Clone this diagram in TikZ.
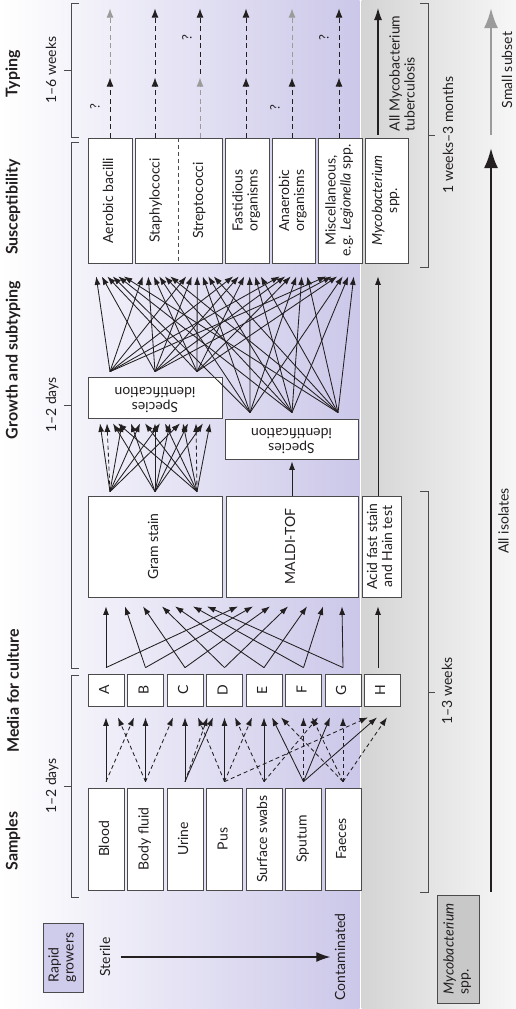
\documentclass[tikz,border=0pt]{standalone}
\usepackage{fontspec}
\setmainfont{Lato}
\usepackage{graphicx}
\usetikzlibrary{arrows.meta}
\definecolor{lav}{RGB}{203,199,233}
\definecolor{lavbox}{RGB}{207,203,235}
\definecolor{txt}{RGB}{35,31,32}
\definecolor{bord}{RGB}{75,75,75}
\definecolor{gA}{RGB}{212,212,212}
\definecolor{gB}{RGB}{247,247,247}
\definecolor{mgray}{RGB}{200,200,200}
\definecolor{lgray}{RGB}{155,155,155}
\newcommand{\bodyfont}{\fontsize{14}{15}\selectfont}
\newcommand{\rt}[2][c]{\rotatebox{90}{\begin{tabular}{@{}#1@{}}#2\end{tabular}}}
\newcommand{\rtu}[1]{\rotatebox{180}{\begin{tabular}{@{}c@{}}#1\end{tabular}}}
\begin{document}
\begin{tikzpicture}[x=1pt,y=-1pt,
  box/.style={draw=bord,line width=0.8pt,fill=white,inner sep=0pt,font=\bodyfont,text=txt},
  lab/.style={inner sep=0pt,font=\bodyfont,text=txt},
  head/.style={inner sep=0pt,font=\fontsize{16}{18}\selectfont\bfseries,text=txt},
  qm/.style={inner sep=0pt,font=\fontsize{13}{14}\selectfont,text=txt},
  arr/.style={draw=txt,line width=0.85pt,-{Latex[length=8.5pt,width=6pt]}},
  darr/.style={arr,dash pattern=on 4pt off 3pt},
  tarr/.style={draw=#1,line width=0.9pt,dash pattern=on 5pt off 3.5pt,-{Latex[length=9pt,width=7pt]}},
  brk/.style={draw=bord,line width=0.9pt},
  bigarr/.style={draw=#1,line width=2.6pt,-{Latex[length=20pt,width=14pt]}},
]
\useasboundingbox (0,0) rectangle (516,1009);
\shade[left color=white,right color=lav] (0,0) rectangle (359.5,1009);
\shade[left color=gA,right color=gB] (361.5,0) rectangle (516,1009);

% headings
\node[head] (hS) at (13,841) {\rotatebox{90}{Samples}};
\node[head] (hM) at (13,691) {\rotatebox{90}{Media for culture}};
\node[head] (hG) at (13,360) {\rotatebox{90}{Growth and subtyping}};
\node[head] (hSu) at (13,207) {\rotatebox{90}{Susceptibility}};
\node[head] (hT) at (13,74) {\rotatebox{90}{Typing}};

% time labels and brackets
\node[lab] (d1) at (53,786) {\rt{1–2 days}};
\node[lab] (d2) at (53,405) {\rt{1–2 days}};
\node[lab] (d3) at (53,70) {\rt{1–6 weeks}};
\node[lab] (d4) at (450,135) {\rt{1 weeks–3 months}};
\node[lab] (d5) at (449,691) {\rt{1–3 weeks}};
\draw[brk] (79,3) -- (71,3) -- (71,137) -- (79,137) (71,70) -- (64,70);
\draw[brk] (79,142) -- (71,142) -- (71,668) -- (79,668) (71,405) -- (64,405);
\draw[brk] (79,675) -- (71,675) -- (71,897) -- (79,897) (71,786) -- (64,786);
\draw[brk] (420,3) -- (428,3) -- (428,267) -- (420,267) (428,135) -- (435,135);
\draw[brk] (420,491) -- (428,491) -- (428,892) -- (420,892) (428,692) -- (435,692);

% samples
\foreach \n/\x/\t in {1/106/Blood,2/145.5/Body fluid,3/185/Urine,4/224.5/Pus,5/264/Surface swabs,6/303.5/Sputum,7/343/Faeces}
  \node[box,minimum width=36pt,minimum height=102pt] (s\n) at (\x,839) {\rt{\t}};
% media
\foreach \n/\x/\t in {1/106/A,2/145.5/B,3/185/C,4/224.5/D,5/264/E,6/303.5/F,7/343/G,8/382/H}
  \node[box,minimum width=36pt,minimum height=32pt] (m\n) at (\x,690) {\rt{\t}};

% identification boxes
\node[box,minimum width=134pt,minimum height=101pt] (gram) at (155,546.5) {\rt{Gram stain}};
\node[box,minimum width=132pt,minimum height=101pt] (maldi) at (292,546.5) {\rt{MALDI-TOF}};
\node[box,minimum width=39pt,minimum height=101pt] (acid) at (381.5,546.5) {\rt{Acid fast stain\\and Hain test}};
\node[box,minimum width=134pt,minimum height=41pt] (sp1) at (155,397.5) {\rtu{Species\\identification}};
\node[box,minimum width=133pt,minimum height=40pt] (sp2) at (291.5,439) {\rtu{Species\\identification}};

% susceptibility
\node[box,minimum width=44pt,minimum height=125pt] (aer) at (110,200.5) {\rt{Aerobic bacilli}};
\node[box,minimum width=87pt,minimum height=125pt] (ss) at (178.5,200.5) {};
\node[lab] (staph) at (156.5,200.5) {\rt{Staphylococci}};
\node[lab] (strep) at (200,200.5) {\rt{Streptococci}};
\draw[draw=bord,line width=0.8pt,dash pattern=on 4pt off 3pt] (ss.north) -- (ss.south);
\node[box,minimum width=44pt,minimum height=125pt] (fast) at (247,200.5) {\rt{Fastidious\\organisms}};
\node[box,minimum width=43pt,minimum height=125pt] (anaer) at (293.5,200.5) {\rt{Anaerobic\\organisms}};
\node[box,minimum width=44pt,minimum height=125pt] (misc) at (340,200.5) {\rt{Miscellaneous,\\e.g. \textit{Legionella} spp.}};
\node[box,minimum width=43pt,minimum height=125pt] (myco) at (386.5,200.5) {\rt{\textit{Mycobacterium}\\spp.}};

% left side
\node[box,fill=lavbox,minimum width=40pt,minimum height=69pt] (rapid) at (63,957.5) {\rt[l]{Rapid\\growers}};
\node[lab] (sterile) at (107,957) {\rt{Sterile}};
\node[lab] (contam) at (342,957) {\rt{Contaminated}};
\draw[draw=txt,line width=1.2pt,-{Latex[length=14pt,width=10pt]}] ([xshift=6pt]sterile.east) -- ([xshift=-4pt]contam.west);
\node[box,fill=mgray,minimum width=42pt,minimum height=108pt] (mycoL) at (458,949) {\rt[l]{\textit{Mycobacterium}\\spp.}};

% samples -> media
\foreach \s/\m/\o/\st in {1/1/0/arr,1/2/-11.5/darr,2/1/12/darr,2/2/0/arr,2/3/-12/darr,3/3/0/arr,3/4/-11.5/arr,3/4/-17/darr,4/3/13/darr,4/4/0/arr,4/5/-12/darr,4/8/-14/darr,5/4/10.5/darr,5/5/0/arr,5/6/14.5/darr,6/5/8/arr,6/6/0/darr,6/7/-13/arr,6/8/-5/arr,7/5/17/darr,7/6/8.5/darr,7/7/0/darr,7/8/5/darr}
  \draw[\st] ([yshift=6pt]s\s.north) -- ([xshift=\o pt,yshift=-11pt]m\m.south);
\fill[txt] ([yshift=7pt]s7.north) circle (1.3pt);

% media -> gram / maldi / acid
\foreach \m/\o in {1/-49,2/-30,3/-12,4/7,5/20,6/38,7/52}
  \draw[arr] ([yshift=6pt]m\m.north) -- ([xshift=\o pt,yshift=-9pt]gram.south);
\foreach \m/\o in {1/-54,2/-39,3/-22,4/-4,5/15,6/31,7/50}
  \draw[arr] ([yshift=6pt]m\m.north) -- ([xshift=\o pt,yshift=-9pt]maldi.south);
\draw[arr] ([xshift=-4pt,yshift=6pt]m8.north) -- ([xshift=-3.5pt,yshift=-9pt]acid.south);
\draw[arr] (maldi.north) -- ([xshift=0.5pt,yshift=-2pt]sp2.south);
\draw[arr] ([xshift=-3.5pt]acid.north) -- ([xshift=-8.5pt,yshift=-13pt]myco.south);

% gram -> species 1
\foreach \a/\o/\st in {-45/-55/arr,-45/-48/darr,-45/-33/arr,-45/-15/arr,-45/5/arr,-45/25/arr,
                       0/-42/arr,0/-24/arr,0/0/arr,0/15/arr,0/33/arr,0/48/arr,
                       42/-37/arr,42/-10/arr,42/10/arr,42/28/arr,42/41/darr,42/55/arr}
  \draw[\st] ([xshift=\a pt,yshift=4pt]gram.north) -- ([xshift=\o pt,yshift=-5pt]sp1.south);

% species -> susceptibility
\coordinate (T1) at ([yshift=-13pt]aer.south);
\coordinate (T2) at ([xshift=-22pt,yshift=-13pt]ss.south);
\coordinate (T3) at ([xshift=21.5pt,yshift=-13pt]ss.south);
\coordinate (T4) at ([yshift=-13pt]fast.south);
\coordinate (T5) at ([yshift=-13pt]anaer.south);
\coordinate (T6) at ([yshift=-13pt]misc.south);
\foreach \k/\src/\o/\ys in {1/sp1/-45/5,2/sp1/0/5,3/sp1/42/5,4/sp2/-41.5/6,5/sp2/0.5/6,6/sp2/46.5/6}{
  \foreach \j in {1,...,6}{
    \pgfmathsetmacro{\dx}{(\k-3.5)*5.5}
    \draw[arr] ([xshift=\o pt,yshift=\ys pt]\src.north) -- ([xshift=\dx pt]T\j);
  }
}

% typing
\foreach \i/\bx/\o/\ca/\cb in {1/aer/0/txt/lgray,2/ss/-23.5/txt/txt,3/ss/21.5/lgray/txt,4/fast/-1/txt/txt,5/anaer/-1.5/txt/lgray,6/misc/-1/txt/txt}{
  \coordinate (ta\i) at ([xshift=\o pt,yshift=60pt]\bx.north);
  \coordinate (tb\i) at ([xshift=\o pt,yshift=64pt]\bx.north);
  \coordinate (tc\i) at ([xshift=\o pt,yshift=129pt]\bx.north);
  \draw[tarr=\ca] (\bx.north -| ta\i) -- (ta\i);
  \draw[tarr=\cb] (tb\i) -- (tc\i);
}
\node[qm] (q1) at (95,107) {\rotatebox{90}{?}};
\node[qm] (q2) at (187,38) {\rotatebox{90}{?}};
\node[qm] (q3) at (275,108) {\rotatebox{90}{?}};
\node[qm] (q4) at (324,38) {\rotatebox{90}{?}};

% mycobacterium arrows
\coordinate (mtTop) at (378,8);
\draw[draw=txt,line width=1.1pt,-{Latex[length=12pt,width=8pt]}] ([xshift=-8.5pt,yshift=3pt]myco.north) -- (mtTop);
\node[lab] (mtb) at (404,73.5) {\rt[l]{All Mycobacterium\\tuberculosis}};

% big arrows
\coordinate (aiS) at (491,892);
\coordinate (aiE) at (491,148);
\draw[bigarr=txt] (aiS) -- (aiE);
\node[lab] (ail) at (505.5,521) {\rt{All isolates}};
\coordinate (ssS) at (491,135);
\coordinate (ssE) at (491,8);
\draw[bigarr=lgray] (ssS) -- (ssE);
\node[lab] (ssl) at (509,70) {\rt{Small subset}};
\end{tikzpicture}
\end{document}
